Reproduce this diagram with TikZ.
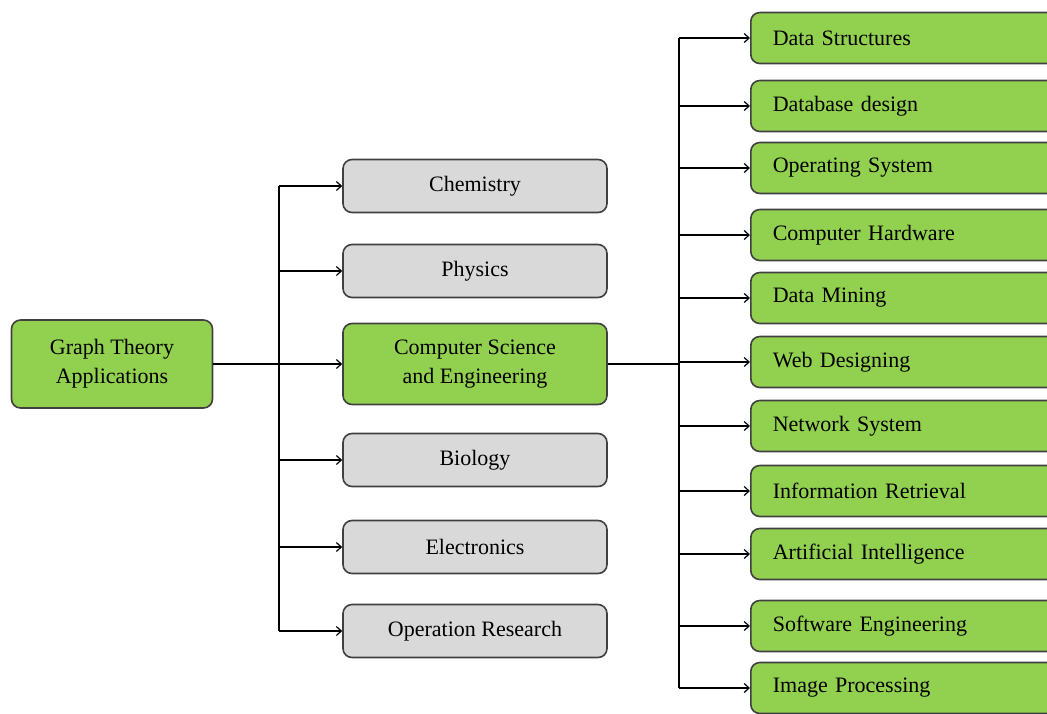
\documentclass[tikz,border=0pt]{standalone}
\usepackage{fontspec}
\setmainfont{Liberation Serif}
\usetikzlibrary{arrows.meta}

\definecolor{leafgreen}{RGB}{146,208,80}
\definecolor{boxgray}{RGB}{217,217,217}

\begin{document}
\begin{tikzpicture}[x=1pt, y=-1pt,
  box/.style={draw=black!75, line width=1.6pt, rounded corners=9pt, font=\fontsize{22}{29}\selectfont, align=center, inner sep=0pt},
  greenbox/.style={box, fill=leafgreen},
  graybox/.style={box, fill=boxgray, minimum width=264pt, minimum height=53pt},
  rightbox/.style={greenbox, anchor=west, text width=276pt, align=left, inner xsep=22pt, minimum height=51pt},
  link/.style={line width=1.2pt, -{Straight Barb[length=5pt, width=9pt, line width=1.2pt]}}]
  \path[use as bounding box, clip] (0,0) rectangle (1047,713);

  \node[greenbox, minimum width=201pt, minimum height=88pt] (root) at (112,364) {Graph Theory\\Applications};
  \node[greenbox, minimum width=264pt, minimum height=81pt] (cse) at (475,364) {Computer Science\\and Engineering};
  \foreach \y/\t [count=\i] in {186/Chemistry, 271/Physics, 460/Biology, 547/Electronics, 631/Operation Research}
    \node[graybox] (m\i) at (475,\y) {\t};
  \foreach \y/\t [count=\i] in {38/Data Structures, 106/Database design, 168/Operating System, 235/Computer Hardware, 298/Data Mining, 362/Web Designing, 426/Network System, 491/Information Retrieval, 554/Artificial Intelligence, 626/Software Engineering, 688/Image Processing}
    \node[rightbox] (r\i) at (750,\y) {\t};

  % left bus
  \coordinate (lbus) at (279,0);
  \draw[link] (root) -- (cse);
  \draw[line width=1.2pt] (lbus |- m1.west) -- (lbus |- m5.west);
  \foreach \i in {1,...,5}
    \draw[link] (lbus |- m\i.west) -- (m\i.west);

  % right bus
  \coordinate (rbus) at (679,0);
  \draw[line width=1.2pt] (cse.east) -- (rbus |- cse.east);
  \draw[line width=1.2pt] (rbus |- r1.west) -- (rbus |- r11.west);
  \foreach \i in {1,...,11}
    \draw[link] (rbus |- r\i.west) -- (r\i.west);
\end{tikzpicture}
\end{document}
